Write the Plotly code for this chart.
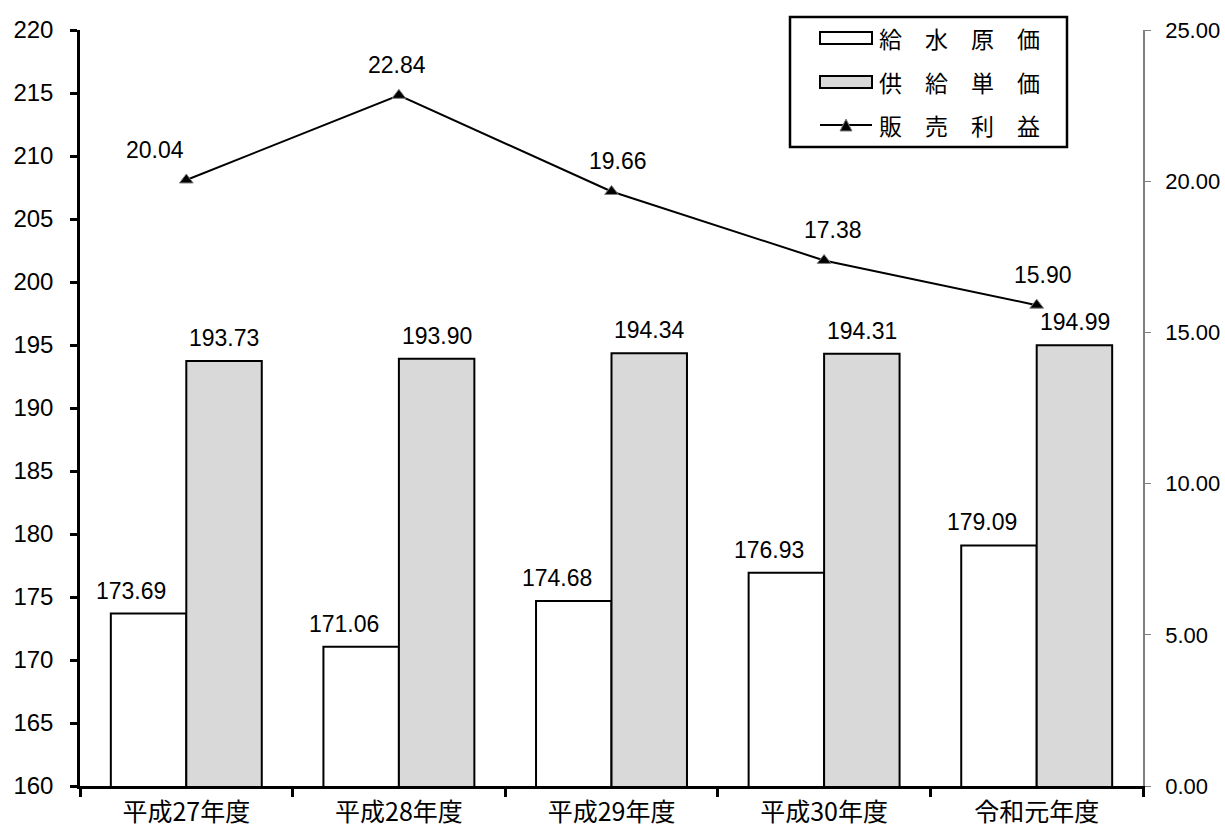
import plotly.graph_objects as go

categories = ["平成27年度", "平成28年度", "平成29年度", "平成30年度", "令和元年度"]
supply_cost = [173.69, 171.06, 174.68, 176.93, 179.09]      # 給水原価
supply_price = [193.73, 193.90, 194.34, 194.31, 194.99]     # 供給単価
sales_profit = [20.04, 22.84, 19.66, 17.38, 15.90]          # 販売利益
series_names = ["給　水　原　価", "供　給　単　価", "販　売　利　益"]

W, H = 1225, 832
ML, MR, MT, MB = 80, 82, 30, 46
PW, PH = W - ML - MR, H - MT - MB

FONT = "Arial, 'Liberation Sans', 'Noto Sans CJK JP', sans-serif"
CJK = "'Noto Sans CJK JP', sans-serif"
GRAY = "#d9d9d9"

# label placement (pixel offsets, styling only)
line_label_dx = [-31, -2, 6, 9, 6]


def px(x):
    return (x - ML) / PW


def py(y):
    return (H - MB - y) / PH


fig = go.Figure()
fig.add_trace(go.Bar(
    x=categories, y=supply_cost, name=series_names[0],
    marker=dict(color="white", line=dict(color="black", width=2)),
    offsetgroup=0,
))
fig.add_trace(go.Bar(
    x=categories, y=supply_price, name=series_names[1],
    marker=dict(color=GRAY, line=dict(color="black", width=2)),
    offsetgroup=1,
))
fig.add_trace(go.Scatter(
    x=categories, y=sales_profit, name=series_names[2], yaxis="y2",
    mode="lines+markers",
    line=dict(color="black", width=2),
    marker=dict(symbol="triangle-up", size=12, color="black",
                line=dict(color="#808080", width=1)),
))

annotations = []
for i, c in enumerate(categories):
    annotations.append(dict(x=c, y=supply_cost[i], xref="x", yref="y",
                            text=f"{supply_cost[i]:.2f}", showarrow=False,
                            xshift=-55, yshift=23, font=dict(size=23, color="black", family=FONT)))
    annotations.append(dict(x=c, y=supply_price[i], xref="x", yref="y",
                            text=f"{supply_price[i]:.2f}", showarrow=False,
                            xshift=38, yshift=23, font=dict(size=23, color="black", family=FONT)))
    annotations.append(dict(x=c, y=sales_profit[i], xref="x", yref="y2",
                            text=f"{sales_profit[i]:.2f}", showarrow=False,
                            xshift=line_label_dx[i], yshift=30,
                            font=dict(size=23, color="black", family=FONT)))

# custom legend (box, symbols, labels)
shapes = []
shapes.append(dict(type="rect", xref="paper", yref="paper",
                   x0=px(790), x1=px(1067), y0=py(147), y1=py(17),
                   line=dict(color="black", width=2.5), fillcolor="white", layer="above"))
rows = [38, 82, 125]
fills = ["white", GRAY]
for r, f in zip(rows[:2], fills):
    shapes.append(dict(type="rect", xref="paper", yref="paper",
                       x0=px(820), x1=px(872), y0=py(r + 6), y1=py(r - 6),
                       line=dict(color="black", width=2), fillcolor=f, layer="above"))
r3 = rows[2]
shapes.append(dict(type="line", xref="paper", yref="paper",
                   x0=px(820), x1=px(872), y0=py(r3), y1=py(r3),
                   line=dict(color="black", width=2), layer="above"))
shapes.append(dict(type="path", xref="paper", yref="paper",
                   path=f"M {px(840)},{py(r3 + 6)} L {px(852)},{py(r3 + 6)} L {px(846)},{py(r3 - 6)} Z",
                   line=dict(color="#808080", width=1), fillcolor="black", layer="above"))
for r, name in zip(rows, series_names):
    annotations.append(dict(x=px(877), y=py(r), xref="paper", yref="paper",
                            xanchor="left", yanchor="middle", text=name, showarrow=False,
                            font=dict(size=23, color="black", family=CJK)))

fig.update_layout(
    width=W, height=H,
    margin=dict(l=ML, r=MR, t=MT, b=MB),
    paper_bgcolor="white", plot_bgcolor="white",
    font=dict(family=FONT, size=22, color="black"),
    barmode="group", bargap=0.29, bargroupgap=0,
    showlegend=False,
    xaxis=dict(showline=True, linecolor="black", linewidth=2.5,
               ticks="outside", tickson="boundaries", ticklen=8, tickwidth=2.5,
               tickcolor="black", showgrid=False, automargin=False,
               ticklabelstandoff=2,
               tickfont=dict(size=25, family=CJK)),
    yaxis=dict(range=[160, 220], dtick=5, showline=True, linecolor="black",
               linewidth=2.5, ticks="outside", ticklen=7, tickwidth=2.5,
               tickcolor="black", showgrid=False, zeroline=False,
               ticklabelstandoff=12, automargin=False,
               tickfont=dict(size=24)),
    yaxis2=dict(range=[0, 25], dtick=5, overlaying="y", side="right",
                tickformat=".2f", showline=True, linecolor="#808080",
                linewidth=1.5, ticks="outside", ticklen=6, tickcolor="#808080",
                showgrid=False, zeroline=False, ticklabelstandoff=10,
                automargin=False,
                tickfont=dict(size=22)),
    annotations=annotations,
    shapes=shapes,
)

fig.write_html("out.html")
